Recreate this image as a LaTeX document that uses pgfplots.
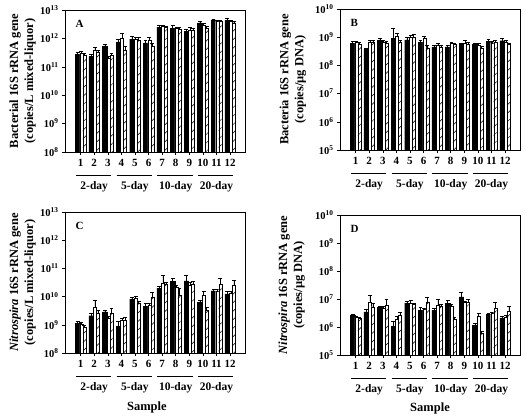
\documentclass[border=0pt]{standalone}
\usepackage{fontspec}
\setmainfont{Liberation Serif}
\usepackage{pgfplots}
\pgfplotsset{compat=1.18}
\usepackage{pgfplotstable}
\usetikzlibrary{patterns.meta}

\pgfplotstableread{
x b eb w ew h eh
1 2.8e11 0.5e11 3.1e11 0.4e11 2.6e11 0.3e11
2 2.3e11 0.4e11 3.8e11 0.9e11 3.4e11 0.4e11
3 5.3e11 0.9e11 2.0e11 0.4e11 2.6e11 0.5e11
4 7.5e11 1.5e11 1.0e12 0.5e12 3.8e11 1.5e11
5 9.5e11 2.0e11 9.0e11 2.0e11 8.5e11 2.5e11
6 7.0e11 1.5e11 8.5e11 2.5e11 5.5e11 1.5e11
7 2.5e12 0.3e12 2.6e12 0.3e12 2.4e12 0.3e12
8 2.3e12 0.5e12 2.2e12 0.3e12 2.1e12 0.3e12
9 1.8e12 0.3e12 2.0e12 0.4e12 1.9e12 0.3e12
10 3.5e12 0.5e12 2.8e12 0.5e12 2.3e12 0.3e12
11 4.5e12 0.4e12 4.0e12 0.4e12 4.0e12 0.4e12
12 4.3e12 0.9e12 4.0e12 0.5e12 3.5e12 0.4e12
}\dataA

\pgfplotstableread{
x b eb w ew h eh
1 6.2e8 1.0e8 6.5e8 0.8e8 5.8e8 0.6e8
2 3.7e8 0.5e8 6.5e8 1.5e8 6.5e8 1.0e8
3 7.8e8 1.5e8 6.5e8 1.0e8 6.0e8 1.0e8
4 9.0e8 1.2e9 1.1e9 0.3e9 6.5e8 1.0e8
5 8.0e8 2.0e8 1.0e9 0.2e9 1.0e9 0.3e9
6 6.5e8 1.0e8 9.5e8 1.0e8 4.2e8 1.0e8
7 4.5e8 0.8e8 5.2e8 0.8e8 4.5e8 0.8e8
8 4.5e8 0.8e8 6.0e8 0.8e8 5.5e8 0.8e8
9 5.5e8 0.8e8 6.0e8 1.5e8 5.5e8 1.0e8
10 5.5e8 0.8e8 5.2e8 0.8e8 4.2e8 0.5e8
11 7.2e8 1.0e8 6.2e8 1.0e8 6.8e8 0.8e8
12 7.5e8 1.5e8 6.5e8 1.0e8 5.5e8 0.8e8
}\dataB

\pgfplotstableread{
x b eb w ew h eh
1 1.15e9 0.2e9 1.05e9 0.15e9 8.5e8 1.0e8
2 2.1e9 0.4e9 4.3e9 3.0e9 2.6e9 0.7e9
3 2.9e9 0.3e9 1.7e9 0.3e9 2.6e9 1.4e9
4 8.7e8 5.0e8 1.4e9 0.3e9 1.45e9 0.35e9
5 8.2e9 1.0e9 8.5e9 1.5e9 6.0e9 1.0e9
6 4.6e9 1.0e9 5.0e9 1.0e9 9.5e9 4.5e9
7 2.0e10 0.4e10 3.1e10 2.4e10 2.7e10 0.5e10
8 3.5e10 0.9e10 2.1e10 0.4e10 1.15e10 0.8e10
9 3.6e10 2.0e10 2.6e10 0.5e10 2.8e10 0.7e10
10 6.2e9 1.0e9 1.15e10 0.4e10 3.4e9 0.8e9
11 1.6e10 0.2e10 1.6e10 0.2e10 2.8e10 1.7e10
12 1.25e10 0.3e10 1.3e10 0.3e10 2.5e10 1.3e10
}\dataC

\pgfplotstableread{
x b eb w ew h eh
1 2.6e6 0.3e6 2.3e6 0.2e6 2.1e6 0.2e6
2 3.5e6 0.8e6 8.0e6 6.0e6 5.3e6 1.5e6
3 5.0e6 0.5e6 4.8e6 0.5e6 6.1e6 3.5e6
4 1.05e6 0.5e6 1.9e6 0.5e6 2.7e6 0.6e6
5 7.2e6 1.0e6 6.8e6 2.5e6 6.3e6 0.8e6
6 4.0e6 1.0e6 4.3e6 0.5e6 8.0e6 4.0e6
7 4.0e6 0.5e6 6.0e6 4.0e6 5.5e6 0.8e6
8 7.2e6 1.5e6 5.5e6 0.8e6 1.9e6 0.3e6
9 1.2e7 0.6e7 7.5e6 1.0e6 8.0e6 2.0e6
10 1.15e6 0.2e6 2.5e6 0.6e6 6.0e5 1.0e5
11 2.8e6 0.3e6 3.0e6 0.3e6 4.8e6 3.0e6
12 2.1e6 0.4e6 2.3e6 0.3e6 3.6e6 1.8e6
}\dataD

\pgfplotsset{
  every axis/.append style={
    scale only axis, width=180pt,
    log basis y=10, log origin=infty,
    xmin=-0.15, xmax=13.1, xtick={1,...,12},
    ybar, clip=false, yminorticks=false,
    axis line style={line width=0.6pt},
    tick style={black, line width=0.5pt},
    tick align=outside, major tick length=3pt,
    xtick pos=bottom, ytick pos=left,
    yticklabel style={font=\fontsize{10.5}{12}\selectfont\bfseries},
    xticklabel style={font=\fontsize{11}{12}\selectfont\bfseries, yshift=-1pt},
    xticklabel={\pgfmathtruncatemacro{\xt}{\tick}\textbf{\xt}},
    yticklabel={\textbf{10\textsuperscript{\pgfmathparse{int(round(\tick))}\pgfmathresult}}},
    ylabel style={anchor=center, align=center, font=\fontsize{12.5}{15}\selectfont\bfseries},
  },
  mblk/.style={fill=black, draw=black, line width=0.4pt, bar width=4.5pt, bar shift=-3pt},
  mwht/.style={fill=white, draw=black, line width=0.4pt, bar width=3pt, bar shift=0.75pt},
  mhat/.style={fill=white, draw=black, line width=0.4pt, bar width=3pt, bar shift=3.75pt,
    postaction={pattern={Lines[angle=45,distance=6pt,line width=0.5pt]}}},
  merr/.style={error bars/y dir=plus, error bars/y explicit,
    error bars/error bar style={black, line width=0.5pt},
    error bars/error mark options={black, rotate=90, mark size=1.9pt, line width=0.5pt}},
}

\newcommand{\groupdeco}[1]{%
  \draw[line width=0.6pt] ([yshift=-23pt]axis cs:0.65,#1) -- ([yshift=-23pt]axis cs:3.25,#1);
  \draw[line width=0.6pt] ([yshift=-23pt]axis cs:3.65,#1) -- ([yshift=-23pt]axis cs:6.25,#1);
  \draw[line width=0.6pt] ([yshift=-23pt]axis cs:6.65,#1) -- ([yshift=-23pt]axis cs:9.25,#1);
  \draw[line width=0.6pt] ([yshift=-23pt]axis cs:9.65,#1) -- ([yshift=-23pt]axis cs:12.25,#1);
  \node[font=\fontsize{11.5}{12}\selectfont\bfseries] at ([yshift=-35pt]axis cs:2,#1) {2-day};
  \node[font=\fontsize{11.5}{12}\selectfont\bfseries] at ([yshift=-35pt]axis cs:5,#1) {5-day};
  \node[font=\fontsize{11.5}{12}\selectfont\bfseries] at ([yshift=-35pt]axis cs:8,#1) {10-day};
  \node[font=\fontsize{11.5}{12}\selectfont\bfseries] at ([yshift=-35pt]axis cs:11,#1) {20-day};
}
\newcommand{\panelletter}[1]{%
  \node[anchor=north west, font=\fontsize{11}{12}\selectfont\bfseries] at ([xshift=7pt,yshift=-7pt]rel axis cs:0,1) {#1};
}

\begin{document}
\begin{tikzpicture}
\useasboundingbox (0,0) rectangle (526pt,-417pt);

% Panel A
\begin{axis}[ymode=log, at={(65pt,-10pt)}, anchor=north west, height=142pt,
  ymin=1e8, ymax=1e13, ytick={1e8,1e9,1e10,1e11,1e12,1e13},
  ylabel={Bacterial 16S rRNA gene\\(copies/L mixed-liquor)},
  ylabel style={at={(axis description cs:-0.236,0.5)}}]
\addplot[mblk, merr] table[x=x, y=b, y error=eb] {\dataA};
\addplot[mwht, merr] table[x=x, y=w, y error=ew] {\dataA};
\addplot[mhat, merr] table[x=x, y=h, y error=eh] {\dataA};
\groupdeco{1e8}
\panelletter{A}
\end{axis}

% Panel B
\begin{axis}[ymode=log, at={(340pt,-9pt)}, anchor=north west, height=141pt,
  ymin=1e5, ymax=1e10, ytick={1e5,1e6,1e7,1e8,1e9,1e10},
  ylabel={Bacteria 16S rRNA gene\\(copies/μg DNA)},
  ylabel style={at={(axis description cs:-0.262,0.5)}}]
\addplot[mblk, merr] table[x=x, y=b, y error=eb] {\dataB};
\addplot[mwht, merr] table[x=x, y=w, y error=ew] {\dataB};
\addplot[mhat, merr] table[x=x, y=h, y error=eh] {\dataB};
\groupdeco{1e5}
\panelletter{B}
\end{axis}

% Panel C
\begin{axis}[ymode=log, at={(65pt,-212pt)}, anchor=north west, height=141pt,
  ymin=1e8, ymax=1e13, ytick={1e8,1e9,1e10,1e11,1e12,1e13},
  ylabel={\textit{Nitrospira} 16S rRNA gene\\(copies/L mixed-liquor)},
  ylabel style={at={(axis description cs:-0.236,0.5)}}]
\addplot[mblk, merr] table[x=x, y=b, y error=eb] {\dataC};
\addplot[mwht, merr] table[x=x, y=w, y error=ew] {\dataC};
\addplot[mhat, merr] table[x=x, y=h, y error=eh] {\dataC};
\groupdeco{1e8}
\panelletter{C}
\node[font=\fontsize{12.5}{14}\selectfont\bfseries] at ([yshift=-54pt]rel axis cs:0.455,0) {Sample};
\end{axis}

% Panel D
\begin{axis}[ymode=log, at={(340pt,-215pt)}, anchor=north west, height=140pt,
  ymin=1e5, ymax=1e10, ytick={1e5,1e6,1e7,1e8,1e9,1e10},
  ylabel={\textit{Nitrospira} 16S rRNA gene\\(copies/μg DNA)},
  ylabel style={at={(axis description cs:-0.268,0.5)}}]
\addplot[mblk, merr] table[x=x, y=b, y error=eb] {\dataD};
\addplot[mwht, merr] table[x=x, y=w, y error=ew] {\dataD};
\addplot[mhat, merr] table[x=x, y=h, y error=eh] {\dataD};
\groupdeco{1e5}
\panelletter{D}
\node[font=\fontsize{12.5}{14}\selectfont\bfseries] at ([yshift=-53pt]rel axis cs:0.5,0) {Sample};
\end{axis}
\end{tikzpicture}
\end{document}
